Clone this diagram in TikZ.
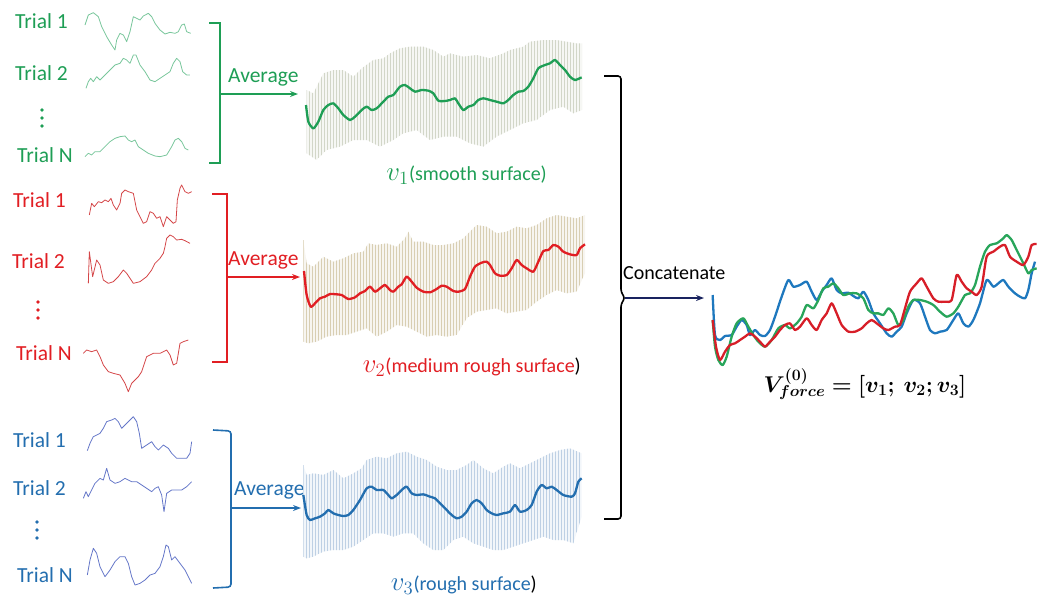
\documentclass[tikz,border=0pt]{standalone}
\usepackage{fontspec}
\setmainfont{Carlito}
\usepackage{bm}
\usetikzlibrary{arrows.meta}
\definecolor{mygreen}{RGB}{30,158,85}
\definecolor{mygreenl}{RGB}{120,198,155}
\definecolor{myred}{RGB}{225,30,35}
\definecolor{myredl}{RGB}{212,70,72}
\definecolor{myblue}{RGB}{35,110,175}
\definecolor{mybluel}{RGB}{100,118,200}
\definecolor{mynavy}{RGB}{25,35,95}
\definecolor{bargreen}{RGB}{210,214,200}
\definecolor{barred}{RGB}{216,206,178}
\definecolor{barblue}{RGB}{190,208,228}
\definecolor{catgreen}{RGB}{40,165,90}
\definecolor{catred}{RGB}{215,30,40}
\definecolor{catblue}{RGB}{30,120,190}
\newcommand{\vsym}[1]{\scalebox{1.3}{$v_{#1}$}}
\tikzset{
    trial/.style={font=\fontsize{21.5}{26}\selectfont, anchor=base west, inner sep=0pt},
    caption/.style={font=\fontsize{20}{24}\selectfont, anchor=base east, inner sep=0pt},
    raw/.style={line width=0.8pt, line join=round},
    avg/.style={line width=2.3pt, line join=round, smooth, tension=0.4},
    bar/.style={line width=0.6pt},
    brk/.style={line width=1.6pt},
    arr/.style={-{Stealth[length=8pt,width=6pt]}, line width=1.6pt},
}
\begin{document}
\begin{tikzpicture}[x=1pt, y=-1pt]
\useasboundingbox (0,0) rectangle (1050,606);
% labels of the trials
\node[trial, mygreen] (g1) at (15,28) {Trial 1};
\node[trial, mygreen] (g2) at (15,80) {Trial 2};
\node[trial, mygreen] (gN) at (17,162) {Trial N};
\node[trial, myred] (r1) at (13,207) {Trial 1};
\node[trial, myred] (r2) at (12,268) {Trial 2};
\node[trial, myred] (rN) at (16,360) {Trial N};
\node[trial, myblue] (b1) at (13,447) {Trial 1};
\node[trial, myblue] (b2) at (13,495) {Trial 2};
\node[trial, myblue] (bN) at (17,582) {Trial N};
\foreach \y in {110,118,126} \fill[mygreen] (42,\y) circle (1.8pt);
\foreach \y in {302,310,318} \fill[myred] (38,\y) circle (1.8pt);
\foreach \y in {522,530,538} \fill[myblue] (37,\y) circle (1.8pt);

% raw trials, green
\begin{scope}[scale=1/3, mygreenl]
  \draw[raw] plot coordinates {(255,75) (265,45) (280,38) (295,50) (305,80) (320,110) (335,135) (345,150) (350,120) (360,100) (370,105) (380,125) (390,95) (400,50) (410,55) (420,60) (430,48) (445,40) (455,50) (465,70) (480,90) (495,102) (510,97) (525,100) (535,95) (545,75) (553,72) (560,95) (572,100)};
  \draw[raw] plot coordinates {(258,265) (265,245) (272,235) (280,245) (290,230) (300,240) (315,225) (330,210) (345,195) (360,190) (370,175) (380,180) (390,190) (400,165) (408,165) (420,195) (435,215) (450,240) (465,245) (480,235) (495,225) (510,215) (520,190) (530,175) (540,185) (548,215) (560,225) (570,225)};
  \draw[raw] plot coordinates {(255,470) (265,460) (275,465) (285,455) (300,455) (315,440) (330,425) (345,415) (360,410) (375,408) (385,420) (395,425) (405,420) (415,440) (430,450) (445,460) (465,468) (480,470) (500,465) (515,440) (525,420) (535,415) (545,425) (555,445) (565,450)};
\end{scope}
% raw trials, red
\begin{scope}[shift={(0,180)}, scale=1/3, myredl]
  \draw[raw] plot coordinates {(268,105) (275,70) (283,80) (295,65) (305,68) (315,60) (325,65) (333,55) (340,75) (350,90) (360,70) (365,40) (375,30) (385,35) (400,40) (410,90) (420,110) (430,130) (440,125) (450,95) (460,100) (470,115) (480,110) (490,140) (500,110) (510,120) (520,130) (528,125) (532,60) (540,25) (545,15) (555,35) (565,40) (575,35)};
  \draw[raw] plot coordinates {(265,310) (268,215) (278,290) (290,240) (300,255) (310,300) (325,310) (340,305) (355,290) (370,270) (380,280) (390,295) (400,310) (420,305) (440,290) (455,270) (465,250) (480,235) (490,220) (495,200) (500,175) (510,165) (520,170) (530,180) (545,178) (555,182) (570,190)};
  \draw[raw] plot coordinates {(250,520) (260,510) (275,515) (290,510) (300,530) (310,555) (325,575) (340,580) (360,585) (375,610) (385,635) (395,610) (405,600) (415,590) (425,575) (440,530) (460,520) (480,520) (500,510) (510,525) (520,555) (530,550) (540,490) (550,485) (565,480)};
\end{scope}
% raw trials, blue
\begin{scope}[shift={(0,420)}, scale=1/3, mybluel]
  \draw[raw] plot coordinates {(262,92) (270,70) (280,50) (290,45) (300,40) (310,25) (320,5) (335,0) (345,-5) (355,5) (365,25) (375,15) (385,5) (400,-10) (410,5) (418,40) (425,85) (440,75) (455,65) (465,80) (475,90) (490,75) (505,85) (515,100) (530,115) (545,115) (560,115) (570,100) (575,65)};
  \draw[raw] plot coordinates {(250,235) (258,215) (265,230) (275,210) (285,190) (300,175) (310,180) (320,145) (330,180) (345,190) (360,185) (375,175) (395,185) (410,185) (425,195) (440,205) (455,215) (465,205) (475,200) (485,225) (492,275) (500,220) (515,210) (530,210) (545,210) (560,200) (575,185)};
  \draw[raw] plot coordinates {(262,465) (270,420) (280,385) (290,400) (300,440) (315,470) (330,450) (345,425) (360,410) (375,410) (385,430) (395,470) (405,495) (420,490) (435,480) (450,465) (465,460) (480,440) (490,410) (498,375) (505,380) (515,420) (525,410) (540,430) (555,450) (565,470) (575,490)};
\end{scope}

% brackets and averaging arrows
\draw[brk, mygreen] (209,23) -- (220,23) -- (220,163) -- (209,163);
\draw[brk, myred] (212,194) -- (227,194) -- (227,362) -- (212,362);
\draw[brk, myblue, rounded corners=3pt] (213,430) -- (231,431) -- (231,587) -- (213,588);
\coordinate (gb) at (220,94);
\coordinate (rb) at (227,277);
\coordinate (bb) at (231,508);
\coordinate (gin) at (298,94);
\coordinate (rin) at (300,277);
\coordinate (bin) at (301,508);
\draw[arr, mygreen] (gb) -- (gin);
\draw[arr, myred] (rb) -- (rin);
\draw[arr, myblue] (bb) -- (bin);
\node[trial, mygreen] (ga) at (228,82) {Average};
\node[trial, myred] (ra) at (228,265) {Average};
\node[trial, myblue] (ba) at (234,495) {Average};

% averaged curves with their spread
\begin{scope}[shift={(290,40)}, scale=1/3]
  \begin{scope}
    \clip (50,150) -- (70,160) -- (100,100) -- (130,90) -- (160,90) -- (190,110) -- (215,85) -- (250,60) -- (280,55) -- (300,40) -- (330,25) -- (360,20) -- (400,20) -- (430,30) -- (460,50) -- (480,40) -- (520,50) -- (560,45) -- (600,55) -- (640,40) -- (660,30) -- (700,20) -- (720,5) -- (760,0) -- (800,0) -- (830,5) -- (860,10) -- (877,10) -- (877,210) -- (850,220) -- (820,200) -- (780,210) -- (740,240) -- (700,250) -- (660,270) -- (620,290) -- (580,320) -- (540,310) -- (500,290) -- (460,290) -- (420,300) -- (380,270) -- (340,280) -- (310,300) -- (270,320) -- (230,300) -- (190,300) -- (150,320) -- (110,330) -- (80,360) -- (50,340) -- cycle;
    \fill[bargreen!20] (0,-20) rectangle (900,400);
    \foreach \x in {50,59,...,877} \draw[bar, bargreen] (\x,-20) -- (\x,400);
  \end{scope}
  \draw[avg, mygreen] plot coordinates {(48,195) (55,245) (70,265) (85,245) (100,210) (115,195) (130,190) (145,205) (160,225) (180,240) (195,230) (215,210) (230,200) (245,210) (260,205) (280,185) (295,170) (310,165) (330,140) (345,135) (360,145) (375,155) (395,150) (415,152) (430,160) (445,182) (465,183) (480,180) (495,175) (505,190) (520,210) (535,200) (550,195) (565,180) (580,175) (600,180) (620,185) (640,190) (655,180) (670,165) (685,155) (700,153) (715,140) (730,115) (745,85) (765,75) (780,70) (795,60) (810,75) (825,90) (840,110) (855,120) (875,112)};
\end{scope}
\begin{scope}[shift={(290,195)}, scale=1/3]
  \begin{scope}
    \clip (40,135) -- (50,205) -- (70,215) -- (100,185) -- (130,200) -- (160,190) -- (190,175) -- (220,170) -- (235,145) -- (260,150) -- (290,145) -- (320,155) -- (345,130) -- (355,110) -- (370,140) -- (400,140) -- (430,150) -- (460,150) -- (490,145) -- (520,130) -- (550,100) -- (560,90) -- (590,95) -- (620,115) -- (650,110) -- (680,95) -- (710,100) -- (740,90) -- (770,70) -- (800,60) -- (830,65) -- (860,70) -- (885,60) -- (885,235) -- (860,290) -- (830,295) -- (800,285) -- (770,300) -- (740,320) -- (710,345) -- (680,350) -- (650,355) -- (620,340) -- (590,345) -- (560,350) -- (530,370) -- (500,420) -- (470,425) -- (440,420) -- (410,425) -- (380,410) -- (350,395) -- (320,390) -- (290,410) -- (260,425) -- (230,400) -- (200,410) -- (170,420) -- (140,420) -- (110,425) -- (80,440) -- (55,445) -- (40,440) -- cycle;
    \fill[barred!20] (0,0) rectangle (900,480);
    \foreach \x in {41,50,...,885} \draw[bar, barred] (\x,0) -- (\x,480);
  \end{scope}
  \draw[avg, myred] plot coordinates {(42,228) (50,300) (62,335) (75,325) (90,310) (105,305) (120,297) (140,298) (155,300) (175,312) (195,307) (210,295) (225,288) (240,275) (255,290) (270,280) (285,270) (300,285) (310,290) (325,275) (335,268) (350,245) (365,260) (380,278) (400,290) (420,292) (440,282) (455,272) (470,275) (490,288) (505,290) (525,282) (540,245) (555,215) (575,203) (590,200) (600,210) (615,235) (630,242) (650,240) (665,220) (680,195) (695,210) (710,220) (730,230) (745,200) (760,168) (775,165) (790,150) (805,155) (820,170) (840,178) (860,180) (870,160) (885,148)};
\end{scope}
\begin{scope}[shift={(280,450)}, scale=1/3]
  \begin{scope}
    \clip (70,45) -- (80,75) -- (100,70) -- (130,75) -- (160,60) -- (190,85) -- (220,70) -- (245,55) -- (260,30) -- (290,20) -- (320,25) -- (350,10) -- (380,5) -- (410,20) -- (440,30) -- (470,50) -- (500,60) -- (530,60) -- (560,45) -- (580,30) -- (610,55) -- (640,70) -- (670,50) -- (690,40) -- (720,55) -- (750,40) -- (780,25) -- (810,10) -- (840,0) -- (870,-5) -- (905,10) -- (905,200) -- (880,280) -- (850,270) -- (820,270) -- (790,260) -- (760,270) -- (730,280) -- (700,290) -- (670,300) -- (640,300) -- (610,290) -- (580,280) -- (550,260) -- (520,270) -- (490,300) -- (460,300) -- (430,280) -- (400,250) -- (370,250) -- (340,260) -- (310,250) -- (280,250) -- (250,270) -- (220,290) -- (190,300) -- (160,300) -- (130,305) -- (100,320) -- (80,325) -- (70,320) -- cycle;
    \fill[barblue!20] (0,-20) rectangle (920,360);
    \foreach \x in {71,80,...,905} \draw[bar, barblue] (\x,-20) -- (\x,360);
  \end{scope}
  \draw[avg, myblue] plot coordinates {(70,135) (80,195) (90,210) (105,205) (120,200) (135,190) (145,180) (160,190) (175,195) (190,198) (205,195) (220,180) (240,150) (260,115) (275,110) (290,120) (310,120) (325,135) (335,145) (350,135) (365,120) (380,110) (395,130) (410,135) (430,133) (450,140) (465,145) (480,160) (500,180) (515,195) (530,205) (545,200) (560,185) (575,160) (590,150) (605,160) (620,180) (635,190) (650,195) (670,190) (690,185) (705,165) (720,185) (740,180) (755,165) (770,125) (785,105) (800,115) (815,110) (830,120) (850,135) (875,140) (885,130) (895,95) (905,85)};
\end{scope}
\node[caption] (v1) at (547,180) {\color{mygreen}\vsym{1}(smooth surface)};
\node[caption] (v2) at (581,372) {\color{myred}\vsym{2}(medium rough surface\color{black})};
\node[caption] (v3) at (537,590) {\color{myblue}\vsym{3}(rough surface\color{black})};

% concatenation
\draw[brk, rounded corners=3pt] (604,76) -- (621,76) -- (621,292) -- (625,298) -- (621,304) -- (621,519) -- (604,519);
\coordinate (cb) at (625,298);
\coordinate (cin) at (704,298);
\draw[arr, mynavy, line width=1.2pt] (cb) -- (cin);
\node[trial, font=\fontsize{20}{24}\selectfont] (cat) at (623,279) {Concatenate};
\begin{scope}[shift={(700,220)}, scale=1/3, line width=2.3pt, line join=round]
  \draw[catblue, smooth, tension=0.4] plot coordinates {(38,225) (45,345) (60,360) (75,348) (95,345) (110,320) (125,300) (140,315) (150,345) (165,330) (180,345) (195,348) (210,330) (225,290) (245,230) (265,180) (280,200) (300,195) (320,185) (335,215) (350,240) (365,215) (380,195) (395,175) (410,210) (425,220) (445,218) (460,228) (475,235) (490,215) (505,240) (520,280) (540,310) (560,340) (575,350) (590,335) (605,320) (620,280) (640,240) (660,250) (675,290) (690,330) (705,340) (720,335) (740,330) (760,300) (775,280) (790,310) (805,320) (820,300) (840,250) (860,180) (880,200) (895,190) (910,180) (925,200) (945,220) (960,230) (975,235) (985,210) (995,160) (1005,125)};
  \draw[catgreen, smooth, tension=0.4] plot coordinates {(38,300) (45,380) (55,420) (68,435) (80,410) (95,350) (110,310) (130,295) (145,320) (160,345) (175,365) (195,380) (215,360) (235,325) (255,315) (270,325) (290,310) (305,290) (320,255) (340,265) (355,240) (370,205) (385,200) (400,190) (415,205) (430,225) (450,220) (470,220) (490,235) (505,270) (520,280) (535,280) (550,285) (565,265) (580,280) (595,315) (610,300) (625,260) (640,240) (660,240) (680,245) (700,255) (720,275) (740,290) (760,280) (775,260) (795,225) (810,220) (825,195) (840,140) (855,95) (870,75) (890,70) (910,55) (920,45) (935,60) (950,90) (970,130) (985,160) (995,150) (1010,145)};
  \draw[catred, smooth, tension=0.4] plot coordinates {(38,300) (48,380) (60,420) (75,395) (90,375) (105,370) (120,360) (135,350) (150,340) (165,350) (180,365) (195,380) (210,365) (225,350) (240,330) (255,315) (270,310) (285,330) (300,320) (320,295) (335,315) (350,330) (365,300) (380,280) (395,250) (410,280) (425,315) (445,335) (465,335) (485,325) (500,310) (515,300) (530,310) (550,325) (565,330) (585,320) (600,315) (615,265) (630,215) (650,190) (665,175) (680,200) (700,235) (715,245) (735,245) (755,240) (770,165) (785,185) (800,205) (815,215) (830,225) (845,200) (860,110) (880,95) (900,80) (915,75) (930,110) (950,125) (970,135) (985,110) (995,75) (1010,72)};
\end{scope}
\node[caption, anchor=base] (vf) at (865,392) {\scalebox{1.1}{$\bm{V^{(0)}_{force}=[v_1;\ v_2;v_3]}$}};
\end{tikzpicture}
\end{document}
